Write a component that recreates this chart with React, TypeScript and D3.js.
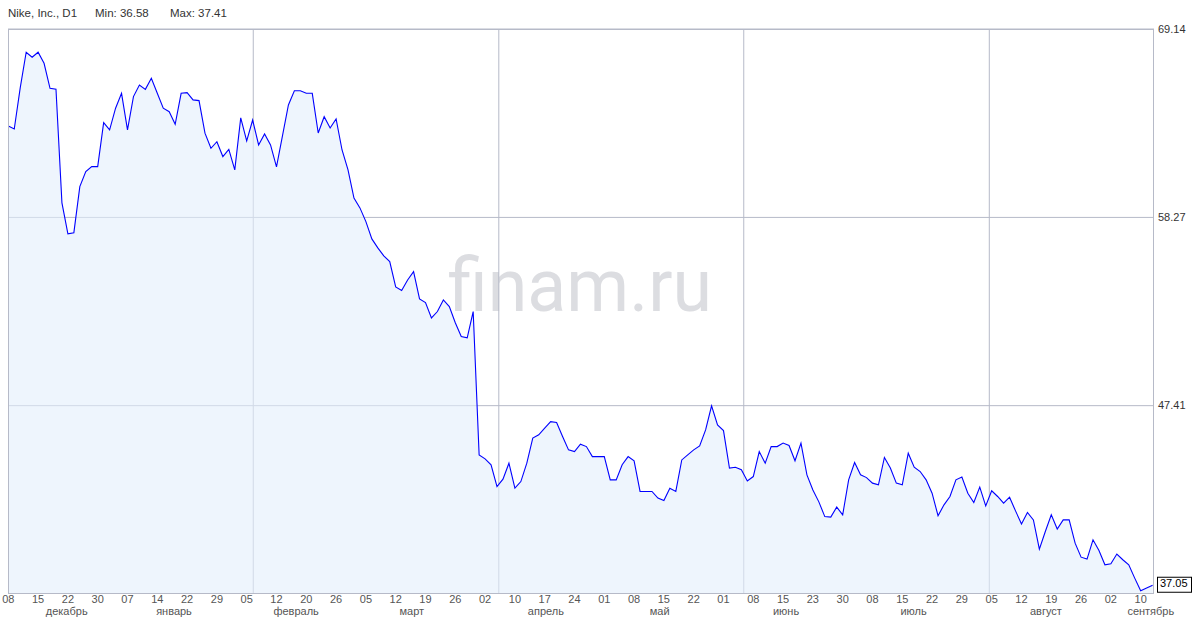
import React from "react";
import * as d3 from "d3";

const title = "Nike, Inc., D1";
const minText = "Min: 36.58";
const maxText = "Max: 37.41";
const watermark = "finam.ru";

const prices = [
  63.55, 63.37, 65.74, 67.8, 67.51, 67.8, 67.16, 65.72, 65.66, 59.11,
  57.32, 57.39, 60.05, 60.91, 61.2, 61.2, 63.74, 63.32, 64.57, 65.43,
  63.32, 65.24, 65.91, 65.66, 66.3, 65.43, 64.57, 64.37, 63.64, 65.43,
  65.47, 65.05, 65.01, 63.13, 62.26, 62.64, 61.78, 62.2, 61.01, 64.01,
  62.68, 63.89, 62.45, 63.09, 62.45, 61.18, 62.97, 64.76, 65.58, 65.58,
  65.43, 65.43, 63.14, 64.08, 63.43, 63.95, 62.16, 61.01, 59.39, 58.82,
  58.03, 57.03, 56.51, 56.05, 55.72, 54.26, 54.05, 54.66, 55.14, 53.57,
  53.36, 52.47, 52.84, 53.51, 53.13, 52.19, 51.4, 51.32, 52.84, 44.57,
  44.34, 44.0, 42.74, 43.17, 44.09, 42.65, 43.03, 44.09, 45.54, 45.73,
  46.11, 46.49, 46.44, 45.63, 44.86, 44.76, 45.19, 45.05, 44.47, 44.47,
  44.47, 43.13, 43.13, 44.0, 44.47, 44.23, 42.46, 42.46, 42.46, 42.08,
  41.94, 42.65, 42.46, 44.28, 44.57, 44.86, 45.09, 46.01, 47.4, 46.3,
  45.97, 43.81, 43.86, 43.71, 43.07, 43.32, 44.76, 44.09, 45.05, 45.05,
  45.25, 45.11, 44.23, 45.25, 43.42, 42.55, 41.86, 41.01, 40.98, 41.56,
  41.11, 43.13, 44.13, 43.42, 43.26, 42.94, 42.84, 44.42, 43.81, 42.94,
  42.84, 44.67, 43.86, 43.61, 43.13, 42.36, 41.06, 41.69, 42.17, 43.13,
  43.29, 42.36, 41.82, 42.71, 41.63, 42.5, 42.17, 41.79, 42.13, 41.34,
  40.59, 41.25, 40.82, 39.13, 40.15, 41.11, 40.29, 40.82, 40.82, 39.48,
  38.67, 38.56, 39.67, 39.05, 38.23, 38.29, 38.85, 38.52, 38.23, 37.46,
  36.73, 36.89, 37.05,
];

const yTickValues = [69.14, 58.27, 47.41];
const yDomain = [36.545, 69.14];

const xTickIndex = [
  0, 5, 10, 15, 20, 25, 30, 35, 40, 45, 50, 55, 60, 65, 70, 75, 80, 85, 90, 95,
  100, 105, 110, 115, 120, 125, 130, 135, 140, 145, 150, 155, 160, 165, 170,
  175, 180, 185, 190,
];
const xTickLabels = [
  "08", "15", "22", "30", "07", "14", "22", "29", "05", "12", "20", "26", "05",
  "12", "19", "26", "02", "10", "17", "24", "01", "08", "15", "22", "01", "08",
  "15", "23", "30", "08", "15", "22", "29", "05", "12", "19", "26", "02", "10",
];

const monthNames = [
  "декабрь", "январь", "февраль", "март", "апрель", "май", "июнь", "июль",
  "август", "сентябрь",
];
const monthCenterIndex = [9.8, 27.8, 48.3, 67.7, 90.2, 109.3, 130.5, 151.9, 174.1, 191.7];

const gridIndex = [41.1, 82.3, 123.4, 164.6];

export default function App() {
  const W = 1200;
  const H = 630;
  const left = 8;
  const right = 1154;
  const top = 29;
  const bottom = 594;

  const x = d3.scaleLinear().domain([0, prices.length - 1]).range([8.3, 1152.6]);
  const y = d3.scaleLinear().domain(yDomain).range([bottom, top]);

  const line = d3
    .line<number>()
    .x((_, i) => x(i))
    .y((d) => y(d));
  const area = d3
    .area<number>()
    .x((_, i) => x(i))
    .y0(bottom)
    .y1((d) => y(d));

  const last = prices[prices.length - 1];
  const font = "'Liberation Sans', Arial, sans-serif";
  const gridColor = "#b6bac8";

  return (
    <div style={{ position: "absolute", left: 0, top: 0 }}>
      <svg width={W} height={H} style={{ display: "block", background: "#fff" }}>
        <text x={8} y={17} fontFamily={font} fontSize={11.5} fill="#333">
          {title}
        </text>
        <text x={95} y={17} fontFamily={font} fontSize={11.5} fill="#333">
          {minText}
        </text>
        <text x={170} y={17} fontFamily={font} fontSize={11.5} fill="#333">
          {maxText}
        </text>

        <text
          x={580}
          y={311}
          textAnchor="middle"
          fontFamily="Roboto, 'Noto Sans', sans-serif"
          fontSize={74}
          textLength={264}
          lengthAdjust="spacingAndGlyphs"
          fill="#dcdde1"
        >
          {watermark}
        </text>

        {gridIndex.map((g, i) => (
          <line key={"gx" + i} x1={x(g)} x2={x(g)} y1={top} y2={bottom} stroke={gridColor} strokeWidth={1} />
        ))}
        {yTickValues.map((v, i) => (
          <line key={"gy" + i} x1={left} x2={right} y1={y(v)} y2={y(v)} stroke={gridColor} strokeWidth={1} />
        ))}

        <path d={area(prices) || ""} fill="rgb(227,238,252)" fillOpacity={0.6} />
        <path d={line(prices) || ""} fill="none" stroke="#0000ff" strokeWidth={1.1} />

        <rect
          x={left + 0.5}
          y={top + 0.5}
          width={right - left - 1}
          height={bottom - top - 1}
          fill="none"
          stroke={gridColor}
          strokeWidth={1}
        />

        {yTickValues.map((v, i) => (
          <text key={"yl" + i} x={1158} y={y(v) + 3.5} fontFamily={font} fontSize={11} fill="#333">
            {v.toFixed(2)}
          </text>
        ))}

        <rect x={1157.5} y={y(last) - 8} width={34} height={15} fill="#fff" stroke="#000" strokeWidth={1} />
        <text x={1160} y={y(last) + 2} fontFamily={font} fontSize={11} fill="#000">
          {last.toFixed(2)}
        </text>

        {xTickIndex.map((t, i) => (
          <text
            key={"xt" + i}
            x={x(t)}
            y={602.5}
            textAnchor="middle"
            fontFamily={font}
            fontSize={11}
            fill="#555"
          >
            {xTickLabels[i]}
          </text>
        ))}
        {monthNames.map((m, i) => (
          <text
            key={"m" + i}
            x={x(monthCenterIndex[i])}
            y={614.5}
            textAnchor="middle"
            fontFamily={font}
            fontSize={11}
            fill="#555"
          >
            {m}
          </text>
        ))}
      </svg>
    </div>
  );
}
